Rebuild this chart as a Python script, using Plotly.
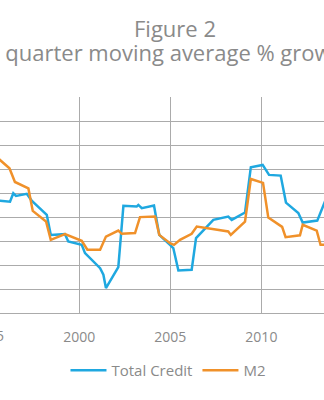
import plotly.graph_objects as go

# Total credit, 4 quarter moving average % growth (decimal years)
credit_years = [1995.48, 1996.19, 1996.37, 1996.52, 1997.11, 1997.38, 1998.21, 1998.43,
                1999.21, 1999.39, 2000.13, 2000.31, 2001.14, 2001.32, 2001.46, 2002.14,
                2002.42, 2003.15, 2003.24, 2003.43, 2004.10, 2004.39, 2004.98, 2005.16,
                2005.44, 2006.17, 2006.41, 2007.36, 2008.18, 2008.37, 2009.10, 2009.42,
                2010.07, 2010.42, 2011.06, 2011.35, 2012.03, 2012.27, 2013.07, 2013.40,
                2013.55]
credit_values = [9.37, 9.28, 9.98, 9.76, 9.93, 9.37, 8.18, 6.51,
                 6.57, 5.96, 5.68, 4.99, 3.74, 3.19, 2.08, 3.83,
                 8.93, 8.87, 9.01, 8.74, 8.95, 6.51, 5.68, 5.41,
                 3.54, 3.60, 6.24, 7.76, 8.04, 7.76, 8.37, 12.15,
                 12.34, 11.51, 11.45, 9.20, 8.34, 7.54, 7.70, 8.93,
                 9.50]

# M2, 4 quarter moving average % growth (decimal years)
m2_years = [1995.48, 1996.16, 1996.46, 1997.20, 1997.44, 1998.17, 1998.43, 1999.21,
            2000.13, 2000.44, 2001.14, 2001.46, 2002.14, 2002.33, 2003.06, 2003.33,
            2004.16, 2004.39, 2004.98, 2005.20, 2005.53, 2006.17, 2006.45, 2008.18,
            2008.32, 2009.10, 2009.42, 2010.09, 2010.38, 2011.14, 2011.33, 2012.12,
            2012.27, 2013.04, 2013.25, 2013.55]
m2_values = [12.96, 12.06, 10.92, 10.38, 8.51, 7.62, 6.10, 6.57,
             6.02, 5.27, 5.27, 6.37, 6.87, 6.60, 6.66, 7.99,
             8.04, 6.51, 5.82, 5.68, 6.10, 6.60, 7.20, 6.79,
             6.51, 7.62, 11.17, 10.84, 7.95, 7.18, 6.32, 6.47,
             7.35, 6.87, 5.68, 5.68]

year_ticks = [1995, 2000, 2005, 2010]
x_range = [1995.64, 2013.44]

BLUE = "#1fa8e0"
ORANGE = "#f0912a"
TEXT = "#8a8a8a"
GRID = "#ababab"
FONT = "Open Sans"

fig = go.Figure()
fig.add_trace(go.Scatter(x=credit_years, y=credit_values, mode="lines",
                         name="Total Credit", line=dict(color=BLUE, width=2.5)))
fig.add_trace(go.Scatter(x=m2_years, y=m2_values, mode="lines",
                         name="M2", line=dict(color=ORANGE, width=2.5)))

# the first year label sits just left of the plotted range, so place it in paper units
span = x_range[1] - x_range[0]
edge_labels = [
    dict(text=str(y), x=(y - x_range[0]) / span, y=-0.102, xref="paper", yref="paper",
         xanchor="center", yanchor="middle", showarrow=False,
         font=dict(size=14, color=TEXT, family=FONT))
    for y in year_ticks if y < x_range[0]
]

fig.update_layout(
    width=324, height=400,
    margin=dict(l=0, r=0, t=97, b=87),
    paper_bgcolor="white", plot_bgcolor="white",
    font=dict(family=FONT, color=TEXT),
    showlegend=True,
    legend=dict(orientation="h", x=0.52, xanchor="center", y=-0.266, yanchor="middle",
                font=dict(size=15, color=TEXT, family=FONT), itemwidth=36),
    annotations=[
        dict(text="Figure 2", x=0.54, y=(313.3 - 28) / 216.6, xref="paper", yref="paper",
             xanchor="center", yanchor="middle", showarrow=False,
             font=dict(size=22, color=TEXT, family=FONT)),
        dict(text="4 quarter moving average % growth", x=0.526, y=(313.3 - 52) / 216.6,
             xref="paper", yref="paper", xanchor="center", yanchor="middle",
             showarrow=False, font=dict(size=22, color=TEXT, family=FONT)),
    ] + edge_labels,
)

fig.update_xaxes(
    range=x_range, tickmode="array", tickvals=year_ticks,
    ticktext=[str(y) for y in year_ticks],
    showgrid=True, gridcolor=GRID, gridwidth=1,
    showline=True, linecolor=GRID, linewidth=1,
    zeroline=False, ticks="", ticklabelstandoff=11,
    tickfont=dict(size=14, color=TEXT, family=FONT),
)
fig.update_yaxes(
    range=[0, 18], dtick=2, showgrid=True, gridcolor=GRID, gridwidth=1,
    zeroline=False, showticklabels=False, showline=False,
)

fig.write_html("out.html")
